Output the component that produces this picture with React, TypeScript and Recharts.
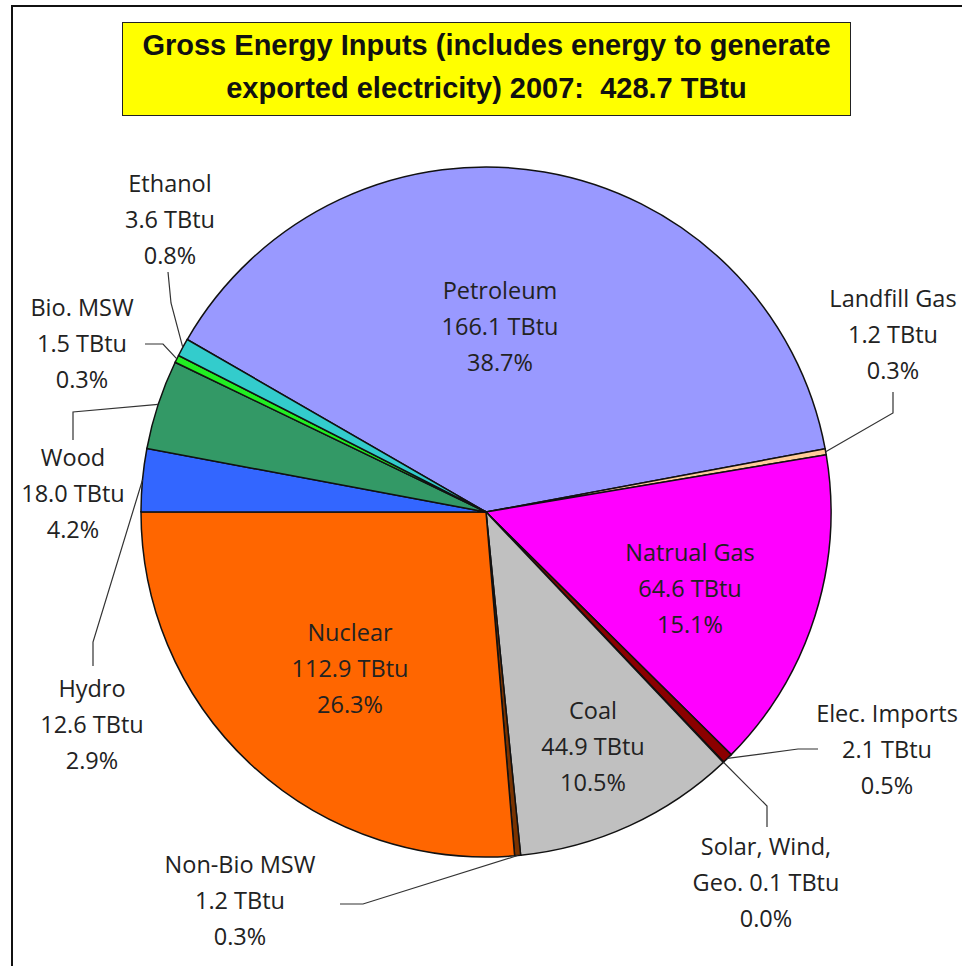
import React from 'react';
import { PieChart, Pie, Cell } from 'recharts';

document.body.style.margin = '0';

// values in TBtu, clockwise from Petroleum
const names = [
    'Petroleum', 'Landfill Gas', 'Natrual Gas', 'Elec. Imports', 'Solar, Wind, Geo.', 'Coal',
    'Non-Bio MSW', 'Nuclear', 'Hydro', 'Wood', 'Bio. MSW', 'Ethanol'
];
const values = [166.1, 1.2, 64.6, 2.1, 0.1, 44.9, 1.2, 112.9, 12.6, 18.0, 1.5, 3.6];
const shares = [38.7, 0.3, 15.1, 0.5, 0.0, 10.5, 0.3, 26.3, 2.9, 4.2, 0.3, 0.8];
const colors = [
    '#9999FF', '#FFCC99', '#FF00FF', '#8B0000', '#33CCCC', '#C0C0C0',
    '#7A3300', '#FF6600', '#3366FF', '#339966', '#22EE22', '#33CCCC'
];
const titleLines = [
    'Gross Energy Inputs (includes energy to generate',
    'exported electricity) 2007:  428.7 TBtu'
];

const data = names.map((name, i) => ({ name, value: values[i], share: shares[i] }));

// where each label sits, plus elbow points of its leader line
const labelLayout: Record<string, { x: number; y: number; elbow?: number[][] }> = {
    'Petroleum': { x: 500, y: 290 },
    'Landfill Gas': { x: 893, y: 298, elbow: [[893, 392], [893, 413]] },
    'Natrual Gas': { x: 690, y: 552 },
    'Elec. Imports': { x: 887, y: 713, elbow: [[818, 749], [798, 749]] },
    'Solar, Wind, Geo.': { x: 766, y: 846, elbow: [[767, 827], [767, 806]] },
    'Coal': { x: 593, y: 710 },
    'Non-Bio MSW': { x: 240, y: 864, elbow: [[340, 904], [363, 904]] },
    'Nuclear': { x: 350, y: 632 },
    'Hydro': { x: 92, y: 688, elbow: [[93, 666], [93, 642]] },
    'Wood': { x: 73, y: 457, elbow: [[73, 440], [73, 412]] },
    'Bio. MSW': { x: 82, y: 307, elbow: [[145, 344], [163, 344]] },
    'Ethanol': { x: 170, y: 183, elbow: [[168, 272], [171, 303]] }
};

const RAD = Math.PI / 180;

const renderLabel = (props: any) => {
    const { cx, cy, midAngle, outerRadius, index } = props;
    const d = data[index];
    const pos = labelLayout[d.name];
    if (!pos) return null;
    let lines = [d.name, `${d.value.toFixed(1)} TBtu`, `${d.share.toFixed(1)}%`];
    if (d.name === 'Solar, Wind, Geo.') {
        lines = ['Solar, Wind,', `Geo. ${d.value.toFixed(1)} TBtu`, `${d.share.toFixed(1)}%`];
    }
    let leader = null;
    if (pos.elbow) {
        const ex = cx + outerRadius * Math.cos(-midAngle * RAD);
        const ey = cy + outerRadius * Math.sin(-midAngle * RAD);
        const pts = [...pos.elbow, [ex, ey]].map(p => p.join(',')).join(' ');
        leader = <polyline points={pts} fill="none" stroke="#333" strokeWidth={1.2} />;
    }
    return (
        <g key={`lbl-${index}`}>
            {leader}
            {lines.map((t, i) => (
                <text key={i} x={pos.x} y={pos.y + i * 36} textAnchor="middle" dominantBaseline="central"
                    fontFamily="'Open Sans', sans-serif" fontSize={23.5} fill="#222">
                    {t}
                </text>
            ))}
        </g>
    );
};

export default function App() {
    return (
        <div style={{ position: 'relative', width: 962, height: 966, background: '#fff', overflow: 'hidden' }}>
            <div style={{ position: 'absolute', left: 11, top: 5, width: 960, height: 970, borderTop: '2px solid #111', borderLeft: '2px solid #111' }} />
            <div style={{
                position: 'absolute', left: 122, top: 22, width: 729, height: 94, background: '#FFFF00',
                border: '1.5px solid #222', display: 'flex', flexDirection: 'column', justifyContent: 'center',
                alignItems: 'center', fontFamily: "'Liberation Sans', Arial, sans-serif", fontWeight: 'bold',
                fontSize: 29, lineHeight: '43px', color: '#111', paddingBottom: 4, boxSizing: 'border-box'
            }}>
                {titleLines.map((t, i) => <div key={i} style={{ whiteSpace: 'pre' }}>{t}</div>)}
            </div>
            <div style={{ position: 'absolute', left: 0, top: 0 }}>
                <PieChart width={962} height={966} margin={{ top: 0, right: 0, bottom: 0, left: 0 }}>
                    <Pie
                        data={data}
                        dataKey="value"
                        nameKey="name"
                        cx={486}
                        cy={512}
                        outerRadius={345}
                        startAngle={150}
                        endAngle={-210}
                        stroke="#111"
                        strokeWidth={1.5}
                        label={renderLabel}
                        labelLine={false}
                        isAnimationActive={false}
                    >
                        {data.map((d, i) => <Cell key={d.name} fill={colors[i]} />)}
                    </Pie>
                </PieChart>
            </div>
        </div>
    );
}
